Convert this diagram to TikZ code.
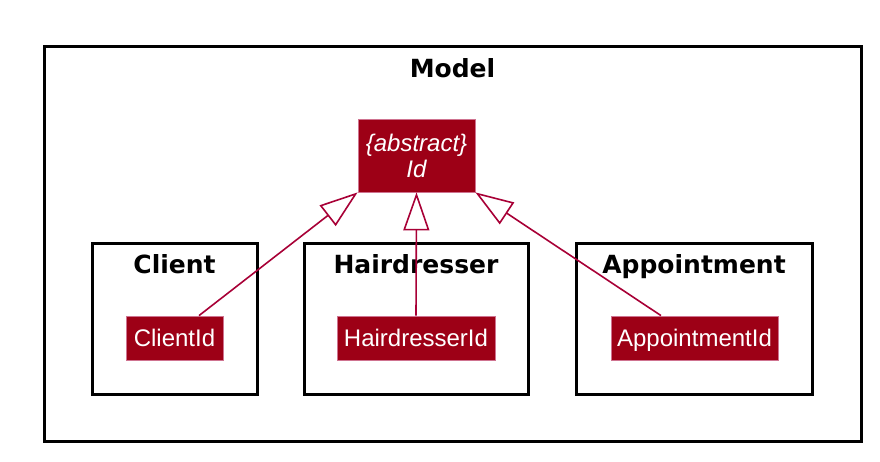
\documentclass[tikz,border=0pt]{standalone}
\usepackage{fontspec}
\setmainfont{Liberation Sans}
\newfontfamily\titlefont{DejaVu Sans}
\usetikzlibrary{arrows.meta}
\usetikzlibrary{positioning}
\usetikzlibrary{calc}
\definecolor{umlred}{RGB}{168,0,54}
\definecolor{umlfill}{RGB}{157,0,22}
\tikzstyle{idbox}=[rectangle,fill=umlfill,draw=umlred!55!white,line width=0.8pt,text=white,font=\fontsize{24}{26}\selectfont,inner sep=0pt,minimum height=44pt,text height=17.2pt,text depth=0pt]
\tikzstyle{abstractbox}=[rectangle,fill=umlfill,draw=umlred!55!white,line width=0.8pt,text=white,font=\fontsize{24}{26}\selectfont\itshape,inner sep=0pt,align=center,minimum width=117pt,minimum height=73pt]
\tikzstyle{package}=[rectangle,draw=black,line width=3pt,inner sep=0pt]
\tikzstyle{pkgtitle}=[font=\titlefont\bfseries\fontsize{25}{30}\selectfont,inner sep=0pt,anchor=base]
\tikzstyle{extends} = [draw,umlred,line width=1.6pt,-{Triangle[open,length=38pt,width=26pt]}]

\begin{document}
\begin{tikzpicture}[x=1pt,y=-1pt]
  \useasboundingbox (0,0) rectangle (880,462);

  % outer package
  \node[package,minimum width=817pt,minimum height=394pt] (model) at (452.5,244) {};
  \node[pkgtitle] (modeltitle) at ($(model.north)+(0,32)$) {Model};

  % inner packages
  \foreach \pos/\name/\width/\label in {{(174.5,319)/client/165/Client}, {(416,319)/hairdresser/224/Hairdresser}, {(694,319)/appointment/236/Appointment}}
  {
        \node[package,minimum width=\width pt,minimum height=150pt] (\name) at \pos {};
        \node[pkgtitle] (\name title) at ($(\name.north)+(0,31)$) {\label};
  }

  \node[abstractbox] (id) at (416.5,155.5) {\{abstract\}\\Id};

  \foreach \pos/\name/\width/\label in {{(174.5,338)/cid/97/ClientId}, {(416,338)/hid/158/HairdresserId}, {(694.5,338)/aid/167/AppointmentId}}
        \node[idbox,minimum width=\width pt] (\name) at \pos {\label};

  % generalisation arrows
  \path[extends] ($(cid.north)+(24.5,0)$) -- (id.south west);
  \path[extends] (hid.north) -- (id.south);
  \path[extends] ($(aid.north)+(-33.5,0)$) -- (id.south east);

\end{tikzpicture}
\end{document}
